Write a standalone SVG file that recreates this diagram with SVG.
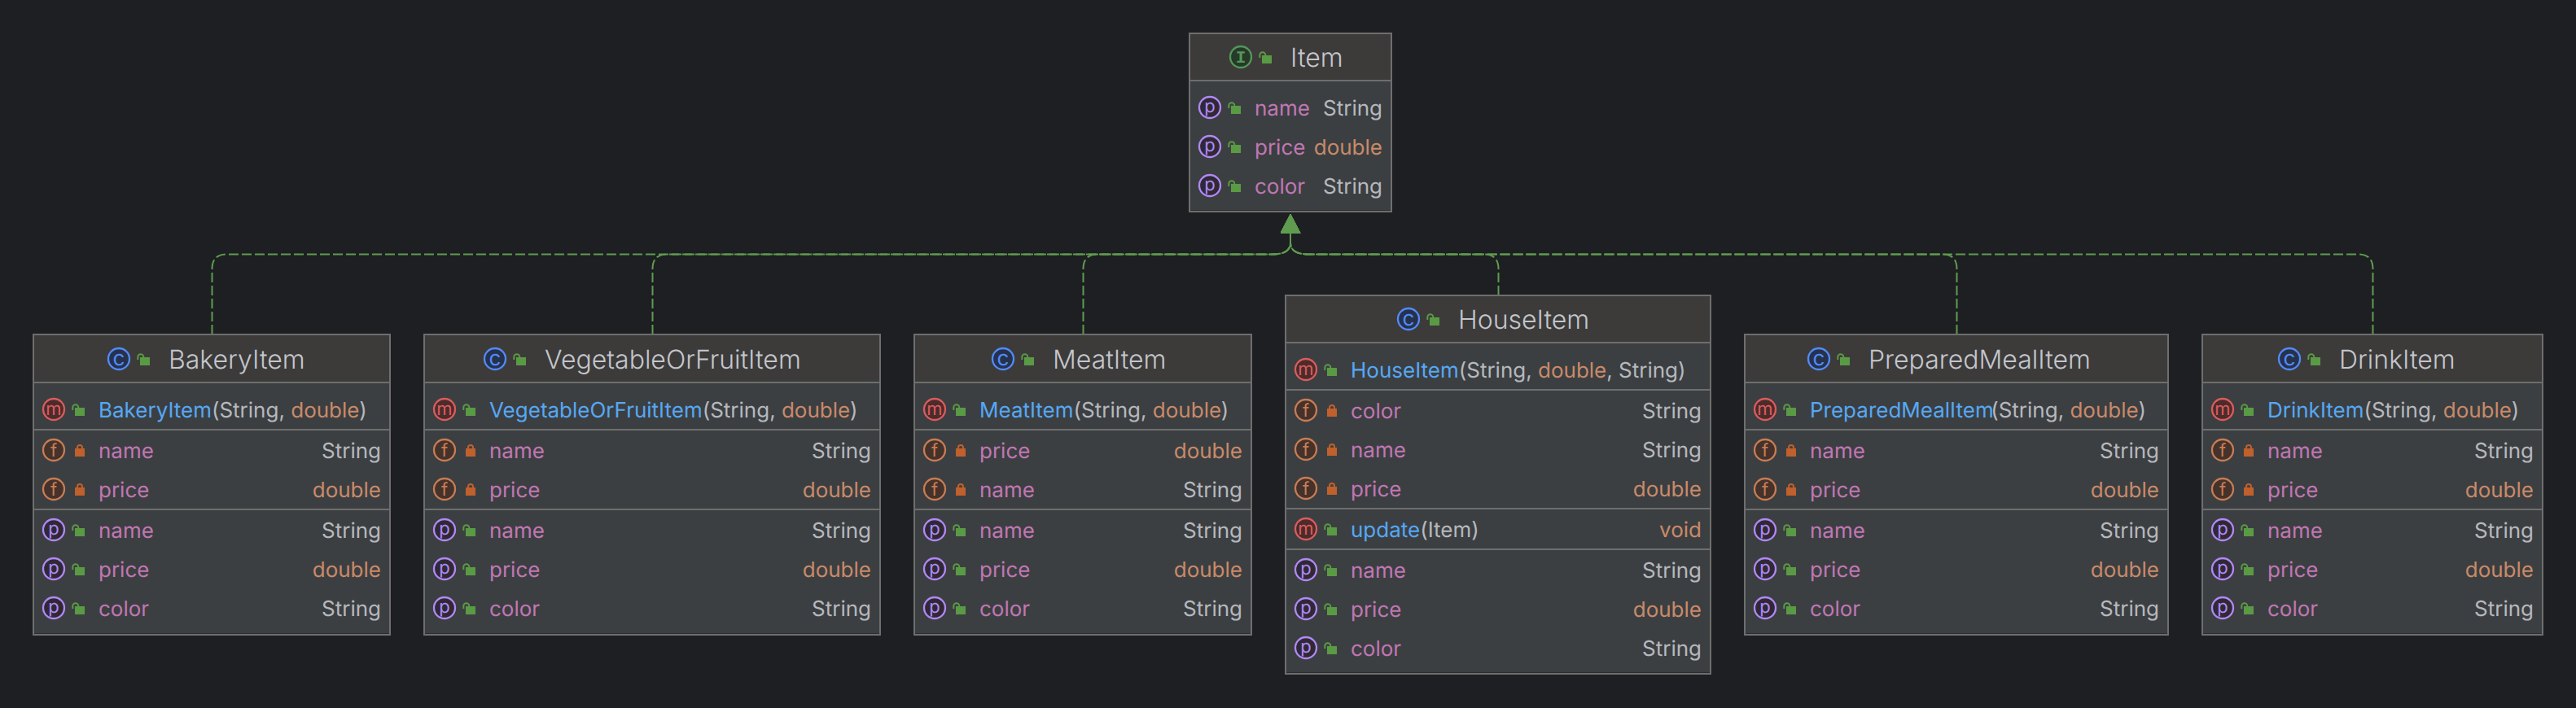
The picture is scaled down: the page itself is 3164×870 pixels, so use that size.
<svg xmlns="http://www.w3.org/2000/svg" width="3164" height="870" viewBox="0 0 3164 870">
<style>
text{font-family:"Inter","Noto Sans",sans-serif;font-size:26px;text-rendering:geometricPrecision}
.t{font-size:32px;font-weight:300;fill:#c4c6cc}
.n{fill:#c077b4}
.s{fill:#b6b8be}
.d{fill:#c98a6a}
.f{fill:#56a8f5}
.r{text-anchor:end}
.hd{fill:#3c3b3a}
.bd{fill:#3c3f41}
.bx{fill:none;stroke:#6e6e6e;stroke-width:2}
.dv{stroke:#6e6e6e;stroke-width:2}
.in{stroke:#2b2d30;stroke-width:1}
.cn{fill:none;stroke:#5f9c50;stroke-width:2;stroke-dasharray:12 4;marker-end:url(#tri)}
.ic{stroke-width:2.300}
.il{font-size:22px;text-anchor:middle}
</style>
<defs>
<marker id="tri" markerUnits="userSpaceOnUse" viewBox="0 -12.500 24 25" refX="0" refY="0" markerWidth="24" markerHeight="25" orient="auto"><path d="M0 -12.500L24 0L0 12.500Z" fill="#5f9c50"/></marker>
<g id="lo"><rect x="26" y="-2" width="12" height="10" fill="#5a9a45"/><path d="M23.300 1V-2.200a3.500 3.500 0 0 1 7 0V-1" fill="none" stroke="#5a9a45" stroke-width="2"/></g>
<g id="lc"><rect x="26" y="-2" width="12" height="10" fill="#c0602c"/><path d="M29 -1V-3a3 3 0 0 1 6 0V-1" fill="none" stroke="#c0602c" stroke-width="2"/></g>
<g id="ic"><circle class="ic" r="13" fill="#25324d" stroke="#548af7"/><text class="il" y="8" style="font-size:26px" fill="#548af7">c</text><use href="#lo"/></g>
<g id="ii"><circle class="ic" r="13" fill="#263a28" stroke="#57965c"/><text class="il" y="7" style="font-family:'Liberation Mono',monospace;font-size:21px;font-weight:700" fill="#57965c">I</text><use href="#lo"/></g>
<g id="im"><circle class="ic" r="13" fill="#4c2b2c" stroke="#db5c5c"/><text class="il" y="7" fill="#db5c5c">m</text><use href="#lo"/></g>
<g id="if"><circle class="ic" r="13" fill="#45322b" stroke="#c77d55"/><text class="il" y="8" fill="#c77d55">f</text><use href="#lc"/></g>
<g id="ip"><circle class="ic" r="13" fill="#2f2936" stroke="#b189f5"/><text class="il" y="6" fill="#b189f5">p</text><use href="#lo"/></g>
</defs>
<rect width="3164" height="870" fill="#1e1f22"/>
<g id="connectors">
<path class="cn" d="M260.500 411V330.500Q260.500 312.500 278.500 312.500H1562C1576 312.500 1585 309 1585 298V286.500"/>
<path class="cn" d="M801.500 411V330.500Q801.500 312.500 819.500 312.500H1562C1576 312.500 1585 309 1585 298V286.500"/>
<path class="cn" d="M1330.500 411V330.500Q1330.500 312.500 1348.500 312.500H1562C1576 312.500 1585 309 1585 298V286.500"/>
<path class="cn" d="M1840.500 363V330.500Q1840.500 312.500 1822.500 312.500H1608C1594 312.500 1585 309 1585 298V286.500"/>
<path class="cn" d="M2403.500 411V330.500Q2403.500 312.500 2385.500 312.500H1608C1594 312.500 1585 309 1585 298V286.500"/>
<path class="cn" d="M2914.500 411V330.500Q2914.500 312.500 2896.500 312.500H1608C1594 312.500 1585 309 1585 298V286.500"/>
</g>
<g id="Item">
<rect class="bd" x="1461" y="41" width="248" height="219"/><rect class="hd" x="1461" y="41" width="248" height="58"/>
<line class="dv" x1="1461" x2="1709" y1="99" y2="99"/>
<line class="in" x1="1461" x2="1709" y1="258.500" y2="258.500"/>
<rect class="bx" x="1461" y="41" width="248" height="219"/>
<use href="#ii" x="1524" y="70"/><text class="t" x="1585" y="82">Item</text>
<use href="#ip" x="1486" y="132"/><text class="n" x="1541" y="142">name</text><text class="s r" x="1698" y="142">String</text>
<use href="#ip" x="1486" y="180"/><text class="n" x="1541" y="190">price</text><text class="d r" x="1698" y="190">double</text>
<use href="#ip" x="1486" y="228"/><text class="n" x="1541" y="238">color</text><text class="s r" x="1698" y="238">String</text>
</g>
<g id="BakeryItem">
<rect class="bd" x="41" y="411" width="438" height="369"/><rect class="hd" x="41" y="411" width="438" height="59"/>
<line class="dv" x1="41" x2="479" y1="470" y2="470"/><line class="dv" x1="41" x2="479" y1="528" y2="528"/><line class="dv" x1="41" x2="479" y1="626" y2="626"/>
<line class="in" x1="41" x2="479" y1="778.500" y2="778.500"/>
<rect class="bx" x="41" y="411" width="438" height="369"/>
<use href="#ic" x="146" y="441"/><text class="t" x="207" y="453">BakeryItem</text>
<use href="#im" x="66" y="503"/><text x="121" y="513"><tspan class="f">BakeryItem</tspan><tspan class="s">(String, </tspan><tspan class="d">double</tspan><tspan class="s">)</tspan></text>
<use href="#if" x="66" y="553"/><text class="n" x="121" y="563">name</text><text class="s r" x="468" y="563">String</text>
<use href="#if" x="66" y="601"/><text class="n" x="121" y="611">price</text><text class="d r" x="468" y="611">double</text>
<use href="#ip" x="66" y="651"/><text class="n" x="121" y="661">name</text><text class="s r" x="468" y="661">String</text>
<use href="#ip" x="66" y="699"/><text class="n" x="121" y="709">price</text><text class="d r" x="468" y="709">double</text>
<use href="#ip" x="66" y="747"/><text class="n" x="121" y="757">color</text><text class="s r" x="468" y="757">String</text>
</g>
<g id="VegetableOrFruitItem">
<rect class="bd" x="521" y="411" width="560" height="369"/><rect class="hd" x="521" y="411" width="560" height="59"/>
<line class="dv" x1="521" x2="1081" y1="470" y2="470"/><line class="dv" x1="521" x2="1081" y1="528" y2="528"/><line class="dv" x1="521" x2="1081" y1="626" y2="626"/>
<line class="in" x1="521" x2="1081" y1="778.500" y2="778.500"/>
<rect class="bx" x="521" y="411" width="560" height="369"/>
<use href="#ic" x="608" y="441"/><text class="t" x="669" y="453">VegetableOrFruitItem</text>
<use href="#im" x="546" y="503"/><text x="601" y="513"><tspan class="f">VegetableOrFruitItem</tspan><tspan class="s">(String, </tspan><tspan class="d">double</tspan><tspan class="s">)</tspan></text>
<use href="#if" x="546" y="553"/><text class="n" x="601" y="563">name</text><text class="s r" x="1070" y="563">String</text>
<use href="#if" x="546" y="601"/><text class="n" x="601" y="611">price</text><text class="d r" x="1070" y="611">double</text>
<use href="#ip" x="546" y="651"/><text class="n" x="601" y="661">name</text><text class="s r" x="1070" y="661">String</text>
<use href="#ip" x="546" y="699"/><text class="n" x="601" y="709">price</text><text class="d r" x="1070" y="709">double</text>
<use href="#ip" x="546" y="747"/><text class="n" x="601" y="757">color</text><text class="s r" x="1070" y="757">String</text>
</g>
<g id="MeatItem">
<rect class="bd" x="1123" y="411" width="414" height="369"/><rect class="hd" x="1123" y="411" width="414" height="59"/>
<line class="dv" x1="1123" x2="1537" y1="470" y2="470"/><line class="dv" x1="1123" x2="1537" y1="528" y2="528"/><line class="dv" x1="1123" x2="1537" y1="626" y2="626"/>
<line class="in" x1="1123" x2="1537" y1="778.500" y2="778.500"/>
<rect class="bx" x="1123" y="411" width="414" height="369"/>
<use href="#ic" x="1232" y="441"/><text class="t" x="1293" y="453">MeatItem</text>
<use href="#im" x="1148" y="503"/><text x="1203" y="513"><tspan class="f">MeatItem</tspan><tspan class="s">(String, </tspan><tspan class="d">double</tspan><tspan class="s">)</tspan></text>
<use href="#if" x="1148" y="553"/><text class="n" x="1203" y="563">price</text><text class="d r" x="1526" y="563">double</text>
<use href="#if" x="1148" y="601"/><text class="n" x="1203" y="611">name</text><text class="s r" x="1526" y="611">String</text>
<use href="#ip" x="1148" y="651"/><text class="n" x="1203" y="661">name</text><text class="s r" x="1526" y="661">String</text>
<use href="#ip" x="1148" y="699"/><text class="n" x="1203" y="709">price</text><text class="d r" x="1526" y="709">double</text>
<use href="#ip" x="1148" y="747"/><text class="n" x="1203" y="757">color</text><text class="s r" x="1526" y="757">String</text>
</g>
<g id="HouseItem">
<rect class="bd" x="1579" y="363" width="522" height="465"/><rect class="hd" x="1579" y="363" width="522" height="58"/>
<line class="dv" x1="1579" x2="2101" y1="421" y2="421"/><line class="dv" x1="1579" x2="2101" y1="479" y2="479"/><line class="dv" x1="1579" x2="2101" y1="625" y2="625"/><line class="dv" x1="1579" x2="2101" y1="675" y2="675"/>
<line class="in" x1="1579" x2="2101" y1="826.500" y2="826.500"/>
<rect class="bx" x="1579" y="363" width="522" height="465"/>
<use href="#ic" x="1730" y="392"/><text class="t" x="1791" y="404">HouseItem</text>
<use href="#im" x="1604" y="454"/><text x="1659" y="464"><tspan class="f">HouseItem</tspan><tspan class="s">(String, </tspan><tspan class="d">double</tspan><tspan class="s">, String)</tspan></text>
<use href="#if" x="1604" y="504"/><text class="n" x="1659" y="514">color</text><text class="s r" x="2090" y="514">String</text>
<use href="#if" x="1604" y="552"/><text class="n" x="1659" y="562">name</text><text class="s r" x="2090" y="562">String</text>
<use href="#if" x="1604" y="600"/><text class="n" x="1659" y="610">price</text><text class="d r" x="2090" y="610">double</text>
<use href="#im" x="1604" y="650"/><text x="1659" y="660"><tspan class="f">update</tspan><tspan class="s">(Item)</tspan></text><text class="d r" x="2090" y="660">void</text>
<use href="#ip" x="1604" y="700"/><text class="n" x="1659" y="710">name</text><text class="s r" x="2090" y="710">String</text>
<use href="#ip" x="1604" y="748"/><text class="n" x="1659" y="758">price</text><text class="d r" x="2090" y="758">double</text>
<use href="#ip" x="1604" y="796"/><text class="n" x="1659" y="806">color</text><text class="s r" x="2090" y="806">String</text>
</g>
<g id="PreparedMealItem">
<rect class="bd" x="2143" y="411" width="520" height="369"/><rect class="hd" x="2143" y="411" width="520" height="59"/>
<line class="dv" x1="2143" x2="2663" y1="470" y2="470"/><line class="dv" x1="2143" x2="2663" y1="528" y2="528"/><line class="dv" x1="2143" x2="2663" y1="626" y2="626"/>
<line class="in" x1="2143" x2="2663" y1="778.500" y2="778.500"/>
<rect class="bx" x="2143" y="411" width="520" height="369"/>
<use href="#ic" x="2234" y="441"/><text class="t" x="2295" y="453">PreparedMealItem</text>
<use href="#im" x="2168" y="503"/><text x="2223" y="513"><tspan class="f">PreparedMealItem</tspan><tspan class="s" dx="-3.500">(String, </tspan><tspan class="d">double</tspan><tspan class="s">)</tspan></text>
<use href="#if" x="2168" y="553"/><text class="n" x="2223" y="563">name</text><text class="s r" x="2652" y="563">String</text>
<use href="#if" x="2168" y="601"/><text class="n" x="2223" y="611">price</text><text class="d r" x="2652" y="611">double</text>
<use href="#ip" x="2168" y="651"/><text class="n" x="2223" y="661">name</text><text class="s r" x="2652" y="661">String</text>
<use href="#ip" x="2168" y="699"/><text class="n" x="2223" y="709">price</text><text class="d r" x="2652" y="709">double</text>
<use href="#ip" x="2168" y="747"/><text class="n" x="2223" y="757">color</text><text class="s r" x="2652" y="757">String</text>
</g>
<g id="DrinkItem">
<rect class="bd" x="2705" y="411" width="418" height="369"/><rect class="hd" x="2705" y="411" width="418" height="59"/>
<line class="dv" x1="2705" x2="3123" y1="470" y2="470"/><line class="dv" x1="2705" x2="3123" y1="528" y2="528"/><line class="dv" x1="2705" x2="3123" y1="626" y2="626"/>
<line class="in" x1="2705" x2="3123" y1="778.500" y2="778.500"/>
<rect class="bx" x="2705" y="411" width="418" height="369"/>
<use href="#ic" x="2812" y="441"/><text class="t" x="2873" y="453">DrinkItem</text>
<use href="#im" x="2730" y="503"/><text x="2785" y="513"><tspan class="f">DrinkItem</tspan><tspan class="s">(String, </tspan><tspan class="d">double</tspan><tspan class="s">)</tspan></text>
<use href="#if" x="2730" y="553"/><text class="n" x="2785" y="563">name</text><text class="s r" x="3112" y="563">String</text>
<use href="#if" x="2730" y="601"/><text class="n" x="2785" y="611">price</text><text class="d r" x="3112" y="611">double</text>
<use href="#ip" x="2730" y="651"/><text class="n" x="2785" y="661">name</text><text class="s r" x="3112" y="661">String</text>
<use href="#ip" x="2730" y="699"/><text class="n" x="2785" y="709">price</text><text class="d r" x="3112" y="709">double</text>
<use href="#ip" x="2730" y="747"/><text class="n" x="2785" y="757">color</text><text class="s r" x="3112" y="757">String</text>
</g>
</svg>
